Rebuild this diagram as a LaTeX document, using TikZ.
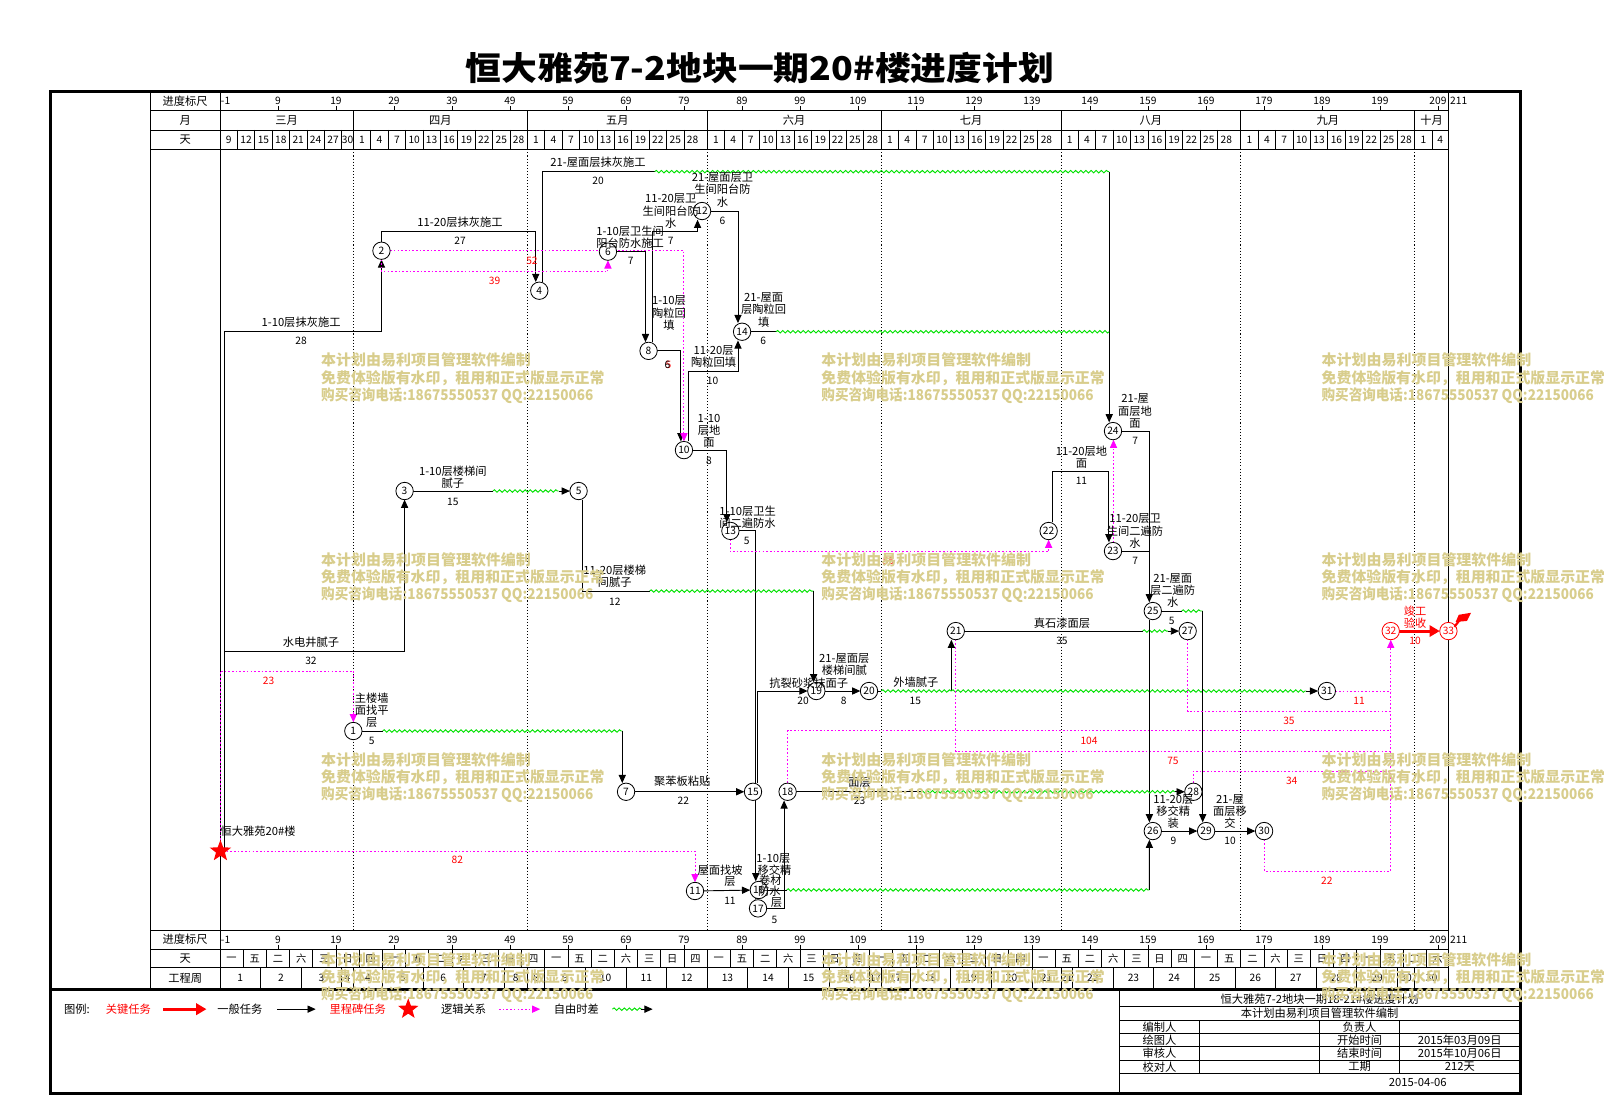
\documentclass[tikz,border=0pt]{standalone}
\usepackage{fontspec}
\usepackage{graphicx}
\setmainfont{Noto Sans CJK SC}
\usetikzlibrary{arrows.meta,decorations.pathmorphing,shapes.geometric}
\pgfdeclarelayer{bg}
\pgfsetlayers{bg,main}
\definecolor{mag}{RGB}{255,0,255}
\definecolor{grn}{RGB}{0,225,0}
\definecolor{wmc}{RGB}{216,205,140}
\newcommand\wkd[1]{\ifcase#1 一\or 五\or 二\or 六\or 三\or 日\or 四\fi}
\newcommand\mcells[3]{\foreach \d in {#3}{\pgfmathsetmacro\myca{#1+\d}\pgfmathsetmacro\mycb{min(\myca+3,#2)}\pgfmathsetmacro\myxa{215+\myca*5.67}\pgfmathsetmacro\myxm{215+(\myca+\mycb)/2*5.67}\draw[grid] (\myxa,127)--(\myxa,146);\node[num] at (\myxm,136.8) {\d};}}
\newcommand\wmblock[2]{%
  \node[wm] at (#1,#2) {\resizebox{205pt}{\height}{本计划由易利项目管理软件编制}};
  \node[wm] at (#1,#2+17.3) {\resizebox{277pt}{\height}{免费体验版有水印，租用和正式版显示正常}};
  \node[wm] at (#1,#2+34.3) {\resizebox{266pt}{\height}{购买咨询电话:18675550537 QQ:22150066}};}
\tikzset{
 every node/.style={inner sep=0pt,outer sep=0pt},
 lbl/.style={font=\fontsize{11}{11.8}\selectfont,align=center},
 num/.style={font=\fontsize{10}{11}\selectfont},
 rednum/.style={font=\fontsize{10}{11}\selectfont,text=red},
 ev/.style={circle,draw,fill=white,minimum size=17pt,line width=0.8pt,font=\fontsize{10}{11}\selectfont},
 evred/.style={ev,draw=red,text=red},
 act/.style={draw,line width=0.9pt,-{Triangle[length=8pt,width=7pt]}},
 ln/.style={draw,line width=0.9pt},
 crit/.style={draw=red,line width=3pt,-{Triangle[length=10pt,width=11pt]}},
 logic/.style={draw=mag,line width=0.9pt,dash pattern=on 1.6pt off 2pt},
 logicarr/.style={logic,-{Triangle[length=8pt,width=7pt]}},
 free/.style={draw=grn,line width=0.9pt,decorate,decoration={snake,amplitude=1.2pt,segment length=5pt}},
 grid/.style={draw,line width=0.8pt},
 monthdot/.style={draw,line width=0.7pt,dash pattern=on 1pt off 2pt},
 wm/.style={font=\bfseries\fontsize{14.5}{15}\selectfont,text=wmc,anchor=west},
}
\begin{document}
\begin{tikzpicture}[x=1pt,y=-1pt]
\useasboundingbox (0,0) rectangle (1568,1072.4);
% title
\node (title) at (743,67) {\bfseries\fontsize{32}{34}\selectfont\resizebox{575pt}{\height}{恒大雅苑7-2地块一期20\#楼进度计划}};

% ---------- events ----------
\node[star,star points=5,star point ratio=2.4,fill=red,minimum size=22pt] (star) at (215.5,832) {};
\node[ev] (n1) at (345.4,714.6) {1};
\node[ev] (n2) at (372.9,245.1) {2};
\node[ev] (n3) at (395.5,480) {3};
\node[ev] (n4) at (527.2,284.2) {4};
\node[ev] (n5) at (565.6,480) {5};
\node[ev] (n6) at (594.3,246) {6};
\node[ev] (n7) at (612,774) {7};
\node[ev] (n8) at (634,343) {8};
\node[ev] (n10) at (668.6,440) {10};
\node[ev] (n11) at (679.4,871) {11};
\node[ev] (n12) at (686.3,206.3) {12};
\node[ev] (n13) at (714,519) {13};
\node[ev] (n14) at (725.4,324.3) {14};
\node[ev] (n15) at (736.1,774) {15};
\node[ev] (n16) at (741.8,870) {16};
\node[ev] (n17) at (741,888) {17};
\node[ev] (n18) at (769.9,774) {18};
\node[ev] (n19) at (798,675.5) {19};
\node[ev] (n20) at (849.5,675.5) {20};
\node[ev] (n21) at (934.3,616.9) {21};
\node[ev] (n22) at (1025.1,519.1) {22};
\node[ev] (n23) at (1088,538.7) {23};
\node[ev] (n24) at (1088,421.4) {24};
\node[ev] (n25) at (1126.9,597.3) {25};
\node[ev] (n26) at (1126.9,812.4) {26};
\node[ev] (n27) at (1161,616.9) {27};
\node[ev] (n28) at (1166.6,774) {28};
\node[ev] (n29) at (1179,812.4) {29};
\node[ev] (n30) at (1235.7,812.4) {30};
\node[ev] (n31) at (1297,675.5) {31};
\node[evred] (n32) at (1359.5,616.9) {32};
\node[evred] (n33) at (1415.9,616.9) {33};
\fill[red] (1421,612) -- (1428,603) -- (1429.5,604.5) -- (1422.5,613.5) -- cycle;
\fill[red] (1426,601) -- (1438,599) -- (1434,607) -- (1423,608) -- cycle;

\begin{pgfonlayer}{bg}
% ---------- frame and scales ----------
\draw[line width=3pt] (49.5,89) rectangle (1486,1069);
\draw[line width=1.5pt] (147,89) -- (147,967);
\draw[grid] (215,89) -- (215,967);
\draw[grid] (1416,89) -- (1416,967);
\foreach \yy in {108,127,146,910,928,946} \draw[grid] (147,\yy) -- (1416,\yy);
\draw[line width=2.5pt] (49.5,967.5) -- (1486,967.5);
\foreach \n in {23,53,84,114,145,176,206}{
  \pgfmathsetmacro\myxx{215+\n*5.67}
  \draw[monthdot] (\myxx,146) -- (\myxx,910);
  \draw[grid] (\myxx,108) -- (\myxx,146);}
\foreach \v in {9,19,...,209}{
  \pgfmathsetmacro\myxx{215+(\v+1)*5.67}
  \draw[grid] (\myxx,104) -- (\myxx,108);
  \draw[grid] (\myxx,923.5) -- (\myxx,928);
  \node[num] at (\myxx,98.8) {\v};
  \node[num] at (\myxx,918.3) {\v};}
\mcells{-9}{23}{9,12,15,18,21,24,27,30}
\mcells{22}{53}{1,4,7,10,13,16,19,22,25,28}
\mcells{52}{84}{1,4,7,10,13,16,19,22,25,28}
\mcells{83}{114}{1,4,7,10,13,16,19,22,25,28}
\mcells{113}{145}{1,4,7,10,13,16,19,22,25,28}
\mcells{144}{176}{1,4,7,10,13,16,19,22,25,28}
\mcells{175}{206}{1,4,7,10,13,16,19,22,25,28}
\mcells{205}{211.8}{1,4}
\foreach \k in {0,...,52}{
  \pgfmathsetmacro\myca{4*\k}
  \pgfmathsetmacro\mycb{min(\myca+4,211.8)}
  \pgfmathsetmacro\myxa{215+\myca*5.67}
  \pgfmathsetmacro\myxm{215+(\myca+\mycb)/2*5.67}
  \pgfmathtruncatemacro\mym{mod(\k,7)}
  \draw[grid] (\myxa,928) -- (\myxa,946);
  \node[num] at (\myxm,937.3) {\wkd{\mym}};}
\foreach \wa/\wb/\wl in {0/7/1,7/14/2,14/21/3,21/23/4,23/28/4,28/35/5,35/42/6,42/49/7,49/53/8,53/56/8,56/63/9,63/70/10,70/77/11,77/84/12,84/91/13,91/98/14,98/105/15,105/112/16,112/114/17,114/119/17,119/126/18,126/133/19,133/140/20,140/145/21,145/147/21,147/154/22,154/161/23,161/168/24,168/175/25,175/182/26,182/189/27,189/196/28,196/203/29,203/206/30,206/211.8/30}{
  \pgfmathsetmacro\myxa{215+\wa*5.67}
  \pgfmathsetmacro\myxm{215+(\wa+\wb)/2*5.67}
  \draw[grid] (\myxa,946) -- (\myxa,966);
  \node[num] at (\myxm,956) {\wl};}

% ---------- activities ----------
\coordinate (j1) at (219.5,637.1);
\draw[act] ([xshift=4pt]star.center) |- (300,324.2) -| (n2.south);
\draw[act] (j1) -| (n3.south);
\draw[act] (n2.north) |- (450,225.8) -| ([xshift=-3.5pt]n4.north);
\coordinate (c4a) at (640,167.8);
\coordinate (c4b) at (1084.3,167.8);
\draw[ln] ([xshift=3.5pt]n4.north) |- (c4a);
\draw[free] (c4a) -- (c4b);
\draw[act] (c4b) -- ([xshift=-3.7pt]n24.north);
\draw[act] (n6.east) -| ([xshift=-3pt]n8.north);
\draw[act] ([xshift=4pt]n8.north) |- (660,225.8) -| ([xshift=-4.4pt]n12.south);
\draw[act] (n12.east) -| ([xshift=-4pt]n14.north);
\coordinate (c8a) at (758.6,324.3);
\draw[ln] (n14.east) -- (c8a);
\draw[free] (c8a) -- (1084.3,324.3);
\draw[act] (n8.east) -| ([xshift=-3pt]n10.north);
\draw[act] ([xshift=4pt]n10.north) |- (700,363.3) -| ([xshift=-4pt]n14.south);
\draw[act] (n10.east) -| ([xshift=-3.5pt]n13.north);
\draw[act] (n13.east) -| ([xshift=-3pt]n16.north);
\draw[act] ([xshift=-3pt]n16.south) -- ([xshift=-3pt]n17.north);
\draw[act] (n7) -- (n15);
\coordinate (c14a) at (374,714.6);
\coordinate (c14b) at (608.3,714.6);
\draw[ln] (n1.east) -- (c14a);
\draw[free] (c14a) -- (c14b);
\draw[act] (c14b) -- ([xshift=-3.7pt]n7.north);
\coordinate (c15a) at (481.8,480);
\coordinate (c15b) at (546,480);
\draw[ln] (n3.east) -- (c15a);
\draw[free] (c15a) -- (c15b);
\draw[act] (c15b) -- (n5.west);
\coordinate (c16a) at (635,577.8);
\coordinate (c16b) at (795.4,577.8);
\draw[ln] ([xshift=4pt]n5.south) |- (c16a);
\draw[free] (c16a) -- (c16b);
\draw[act] (c16b) -- ([xshift=-2.6pt]n19.north);
\draw[act] ([xshift=4pt]n15.north) |- (n19.west);
\draw[act] (n19) -- (n20);
\coordinate (c19a) at (861.5,675.5);
\coordinate (c19b) at (930,675.5);
\draw[ln] (n20.east) -- (c19a);
\draw[free] (c19a) -- (c19b);
\draw[act] (c19b) -- ([xshift=-4.3pt]n21.south);
\coordinate (c20) at (1277,675.5);
\draw[free] (c19b) -- (c20);
\draw[act] (c20) -- (n31.west);
\coordinate (c21a) at (1117,616.9);
\coordinate (c21b) at (1142,616.9);
\draw[ln] (n21.east) -- (c21a);
\draw[free] (c21a) -- (c21b);
\draw[act] (c21b) -- (n27.west);
\draw[act] ([xshift=4.2pt]n22.north) |- (1050,461.1) -| ([xshift=-4pt]n23.north);
\draw[act] (n24.east) -| ([xshift=-3.4pt]n25.north);
\draw[ln] (n23.east) -- (1123.5,538.7);
\coordinate (c25a) at (1155.2,597.3);
\coordinate (c25b) at (1175.7,597.3);
\draw[ln] (n25.east) -- (c25a);
\draw[free] (c25a) -- (c25b);
\draw[act] (c25b) -- ([xshift=-3.3pt]n29.north);
\draw[act] ([xshift=-3.3pt]n25.south) -- ([xshift=-3.3pt]n26.north);
\coordinate (c27a) at (769,870);
\coordinate (c27b) at (1123.6,870);
\draw[ln] (n16.east) -- (c27a);
\draw[free] (c27a) -- (c27b);
\draw[act] (c27b) -- ([xshift=-3.3pt]n26.south);
\draw[act] (n17.east) -| ([xshift=-3.4pt]n18.south);
\draw[act] (n11) -- (n16);
\coordinate (c30a) at (900,774);
\coordinate (c30b) at (1149,774);
\draw[ln] (n18.east) -- (c30a);
\draw[free] (c30a) -- (c30b);
\draw[act] (c30b) -- (n28.west);
\draw[act] (n26) -- (n29);
\draw[act] (n29) -- (n30);
\draw[crit] (n32) -- (n33);
% ---------- logic ----------
\draw[logicarr] (star.east) -| (n11.north);
\draw[logicarr] (star.north) |- (300,656) -| (n1.north);
\draw[logicarr] (n2.east) -| (n10.north);
\draw[logicarr] (n2.south) |- (500,265.7) -| (n6.south);
\draw[logicarr] (n13.south) |- (800,539.3) -| (n22.south);
\draw[logicarr] ([xshift=0.5pt]n23.north) -- ([xshift=0.5pt]n24.south);
\draw[logic] (n18.north) |- (1359.5,714.3);
\draw[logic] (n21.south) |- (1359.5,734.8);
\draw[logic] (n27.south) |- (1359.5,695.1);
\draw[logic] (n31.east) -- (1359.5,675.5);
\draw[logic] (n28.north) |- (1359.5,753.7);
\draw[logicarr] (n30.south) |- (1300,851.5) -| (n32.south);
\end{pgfonlayer}

% ---------- activity labels ----------
\node[lbl] at (294.3,315.5) {1-10层抹灰施工}; \node[num] at (294.3,333.4) {28};
\node[lbl] at (304,628.3) {水电井腻子}; \node[num] at (304,646.3) {32};
\node[lbl] at (449.7,217.7) {11-20层抹灰施工}; \node[num] at (449.7,235.3) {27};
\node[lbl] at (584.6,159) {21-屋面层抹灰施工}; \node[num] at (584.6,176.9) {20};
\node[lbl] at (616,231.5) {1-10层卫生间\\阳台防水施工}; \node[num] at (616.6,255) {7};
\node[lbl] at (655.7,206.3) {11-20层卫\\生间阳台防\\水}; \node[num] at (655.7,235.2) {7};
\node[lbl] at (706.3,185.7) {21-屋面层卫\\生间阳台防\\水}; \node[num] at (706.3,215.7) {6};
\node[lbl] at (746.5,303) {21-屋面\\层陶粒回\\填}; \node[num] at (746,333.4) {6};
\node[lbl] at (654,306) {1-10层\\陶粒回\\填}; \node[rednum] at (653.5,356.8) {5}; \node[num] at (652.5,356.8) {6};
\node[lbl] at (697.6,348.8) {11-20层\\陶粒回填}; \node[num] at (696.5,372.2) {10};
\node[lbl] at (693.1,421.3) {1-10\\层地\\面}; \node[num] at (693,450.6) {8};
\node[lbl] at (730.8,505.6) {1-10层卫生\\间二遍防水}; \node[num] at (730,529) {5};
\node[lbl] at (667,764) {聚苯板粘贴}; \node[num] at (668,783) {22};
\node[lbl] at (363.3,694.5) {主楼墙\\面找平\\层}; \node[num] at (363.3,724) {5};
\node[lbl] at (442.7,466.2) {1-10层楼梯间\\腻子}; \node[num] at (442.7,490.2) {15};
\node[lbl] at (601,563.5) {11-20层楼梯\\间腻子}; \node[num] at (601,588) {12};
\node[lbl] at (790.5,667.4) {抗裂砂浆抹面子}; \node[num] at (785,685.3) {20};
\node[lbl] at (825.3,649.5) {21-屋面层\\楼梯间腻}; \node[num] at (824.8,685.3) {8};
\node[lbl] at (895.2,667.4) {外墙腻子}; \node[num] at (894.8,685.3) {15};
\node[lbl] at (1038.1,608.8) {真石漆面层}; \node[num] at (1038.1,626.7) {35};
\node[lbl] at (1057.2,446.9) {11-20层地\\面}; \node[num] at (1057.2,470.1) {11};
\node[lbl] at (1109.6,401.8) {21-屋\\面层地\\面}; \node[num] at (1109.6,431) {7};
\node[lbl] at (1109.6,519.1) {11-20层卫\\生间二遍防\\水}; \node[num] at (1109.6,548.4) {7};
\node[lbl] at (1146.4,577) {21-屋面\\层二遍防\\水}; \node[num] at (1145.5,607.2) {5};
\node[lbl] at (1147,792.9) {11-20层\\移交精\\装}; \node[num] at (1147,822.1) {9};
\node[lbl] at (1202.4,792.9) {21-屋\\面层移\\交}; \node[num] at (1202.4,822.1) {10};
\node[lbl,text=red] at (1383.3,603) {竣工\\验收}; \node[rednum] at (1383.3,626.5) {10};
\node[lbl] at (840.3,765.2) {面层}; \node[num] at (840.3,783.1) {23};
\node[lbl] at (703.9,850.5) {屋面找坡}; \node[lbl] at (713.6,862) {层}; \node[num] at (713.6,880.9) {11};
\node[lbl] at (756,839) {1-10层}; \node[lbl] at (757,850.5) {移交精}; \node[lbl] at (753,860.5) {卷材};
\node[lbl] at (752,871) {防水}; \node[lbl] at (759,882) {层}; \node[num] at (757,899) {5};
\node[lbl,anchor=west] at (215.7,813) {恒大雅苑20\#楼};
% floats
\node[rednum] at (520,255) {52};
\node[rednum] at (483.5,274.7) {39};
\node[rednum] at (262.6,665.8) {23};
\node[rednum] at (447,841) {82};
\node[rednum] at (868.7,548.4) {55};
\node[rednum] at (1064.6,724.1) {104};
\node[rednum] at (1146.6,744) {75};
\node[rednum] at (1260,704.8) {35};
\node[rednum] at (1328.5,685.3) {11};
\node[rednum] at (1262.7,763.5) {34};
\node[rednum] at (1297,861) {22};

% ---------- header texts ----------
\node[lbl] at (181,99) {进度标尺};
\node[lbl] at (181,117.5) {月};
\node[lbl] at (181,136.5) {天};
\node[lbl] at (181,918.5) {进度标尺};
\node[lbl] at (181,937.3) {天};
\node[lbl] at (181,956) {工程周};
\node[num,anchor=west] at (216,98.8) {-1};
\node[num] at (1426,98.8) {211};
\node[num,anchor=west] at (216,918.3) {-1};
\node[num] at (1426,918.3) {211};
\foreach \mx/\mn in {280.2/三月,430.5/四月,603.4/五月,776.3/六月,949.3/七月,1125/八月,1298/九月,1399.5/十月}
  \node[lbl] at (\mx,117.5) {\mn};

% ---------- legend ----------
\node[lbl] at (75.3,986.5) {图例:};
\node[lbl,text=red] at (125.5,986.5) {关键任务};
\draw[crit] (159.6,986.5) -- (201.8,986.5);
\node[lbl] at (234.6,986.5) {一般任务};
\draw[act] (270.8,986.5) -- (308.6,986.5);
\node[lbl,text=red] at (349.7,986.5) {里程碑任务};
\node[star,star points=5,star point ratio=2.4,fill=red,minimum size=21pt] (lgstar) at (399.1,986.5) {};
\node[lbl] at (453.3,986.5) {逻辑关系};
\draw[logicarr] (487.9,986.5) -- (528.1,986.5);
\node[lbl] at (563.5,986.5) {自由时差};
\draw[free] (598.7,986.5) -- (628,986.5);
\draw[act] (627,986.5) -- (638,986.5);

% ---------- info table ----------
\draw[grid] (1094.2,967.5) -- (1094.2,1069);
\foreach \yy in {984.1,997.2,1010.2,1023.3,1036.3,1049.3} \draw[grid] (1094.2,\yy) -- (1486,\yy);
\foreach \xx in {1172.6,1289.6,1368.2} \draw[grid] (\xx,997.2) -- (\xx,1049.3);
\node[lbl] at (1290,976.3) {恒大雅苑7-2地块一期18-21\#楼进度计划};
\node[lbl] at (1290,990.7) {本计划由易利项目管理软件编制};
\node[lbl] at (1133.4,1003.7) {编制人}; \node[lbl] at (1329,1003.7) {负责人};
\node[lbl] at (1133.4,1016.8) {绘图人}; \node[lbl] at (1329,1016.8) {开始时间}; \node[lbl] at (1427,1016.8) {2015年03月09日};
\node[lbl] at (1133.4,1029.8) {审核人}; \node[lbl] at (1329,1029.8) {结束时间}; \node[lbl] at (1427,1029.8) {2015年10月06日};
\node[lbl] at (1133.4,1042.8) {校对人}; \node[lbl] at (1329,1042.8) {工期}; \node[lbl] at (1427,1042.8) {212天};
\node[lbl] at (1386,1058) {2015-04-06};

% ---------- watermark ----------
\foreach \wx in {314,803,1292}
  \foreach \wy in {352,547,742.5,938}
    {\wmblock{\wx}{\wy}}
\end{tikzpicture}
\end{document}
